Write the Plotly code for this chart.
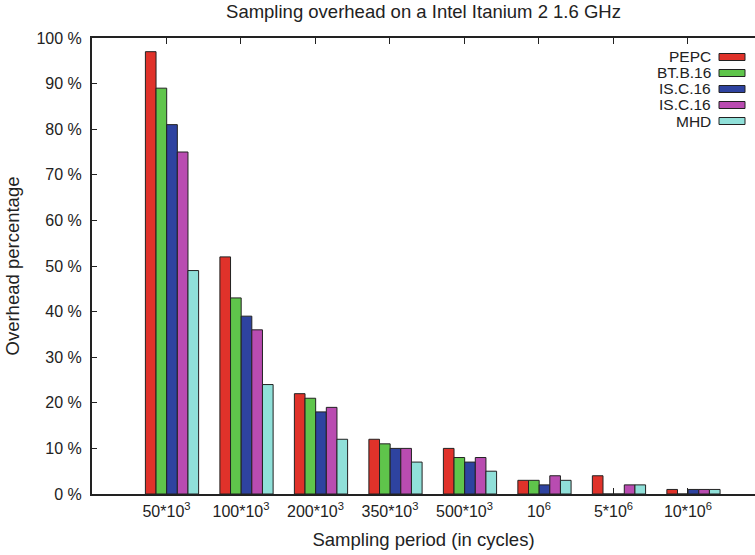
import plotly.graph_objects as go

categories = ["50*10<sup>3</sup>", "100*10<sup>3</sup>", "200*10<sup>3</sup>", "350*10<sup>3</sup>",
              "500*10<sup>3</sup>", "10<sup>6</sup>", "5*10<sup>6</sup>", "10*10<sup>6</sup>"]
series_names = ["PEPC", "BT.B.16", "IS.C.16", "IS.C.16", "MHD"]
pepc = [97, 52, 22, 12, 10, 3, 4, 1]
bt_b16 = [89, 43, 21, 11, 8, 3, 0, 0]
is_c16_a = [81, 39, 18, 10, 7, 2, 0, 1]
is_c16_b = [75, 36, 19, 10, 8, 4, 2, 1]
mhd = [49, 24, 12, 7, 5, 3, 2, 1]
colors = ["#e0322a", "#5fc54b", "#2e43a0", "#b94cb1", "#90e0d9"]

FONT = "Liberation Sans, Arial, Helvetica, sans-serif"
AX = "#222222"
L, R, T, B, W, H = 92, 0, 38, 61, 755, 555

idx = list(range(len(categories)))
shift = 0.074  # cluster offset relative to tic, as in reference

fig = go.Figure()
for name, vals, col in zip(series_names, [pepc, bt_b16, is_c16_a, is_c16_b, mhd], colors):
    fig.add_trace(go.Bar(x=[i + shift for i in idx], y=vals, name=name,
                         marker=dict(color=col, line=dict(color=AX, width=1)),
                         showlegend=False))

fig.update_layout(
    width=W, height=H,
    margin=dict(l=L, r=R, t=T, b=B),
    paper_bgcolor="white", plot_bgcolor="white",
    barmode="group", bargap=2/7, bargroupgap=0,
    font=dict(family=FONT, size=16, color="#222"),
    title=dict(text="Sampling overhead on a Intel Itanium 2 1.6 GHz", x=0.5, xanchor="center",
               xref="paper", y=1 - 12/H, yanchor="middle", font=dict(size=18.5, color="#222")),
    xaxis=dict(range=[-1, 7.9], tickmode="array", tickvals=idx, ticktext=categories,
               ticks="inside", ticklen=6, tickwidth=1, tickcolor=AX,
               showline=True, linecolor=AX, linewidth=2, showgrid=False, zeroline=False,
               layer="below traces", ticklabelstandoff=2,
               title=dict(text="Sampling period (in cycles)", font=dict(size=18.5), standoff=14),
               tickfont=dict(size=16)),
    xaxis2=dict(range=[-1, 7.9], overlaying="x", side="top", tickmode="array", tickvals=idx,
                showticklabels=False, ticks="inside", ticklen=6, tickwidth=1, tickcolor=AX,
                showline=True, linecolor=AX, linewidth=2, showgrid=False, zeroline=False),
    yaxis=dict(range=[0, 100], dtick=10, ticksuffix=" %", ticks="inside", ticklen=5, tickwidth=1,
               tickcolor=AX, showline=True, linecolor=AX, linewidth=2, showgrid=False,
               zeroline=False, layer="below traces", ticklabelstandoff=5,
               title=dict(text="Overhead percentage", font=dict(size=18.5), standoff=12),
               tickfont=dict(size=16)),
)
# dummy trace to activate top axis
fig.add_trace(go.Scatter(x=[None], y=[None], xaxis="x2", showlegend=False, hoverinfo="skip"))


def px2paper_x(px):
    return (px - L) / (W - L - R)


def px2paper_y(py):
    return 1 - (py - T) / (H - T - B)


# custom legend (text left of swatch, as in reference)
leg_y = [57, 73, 89, 105, 121]
for name, col, ypx in zip(series_names, colors, leg_y):
    fig.add_annotation(x=px2paper_x(713), y=px2paper_y(ypx), xref="paper", yref="paper",
                       text=name, showarrow=False, xanchor="right", yanchor="middle",
                       font=dict(size=15.5, color="#222"))
    fig.add_shape(type="rect", xref="paper", yref="paper",
                  x0=px2paper_x(719), x1=px2paper_x(745),
                  y0=px2paper_y(ypx + 3.5), y1=px2paper_y(ypx - 3.5),
                  fillcolor=col, line=dict(color=AX, width=1))

fig.write_html("out.html")
